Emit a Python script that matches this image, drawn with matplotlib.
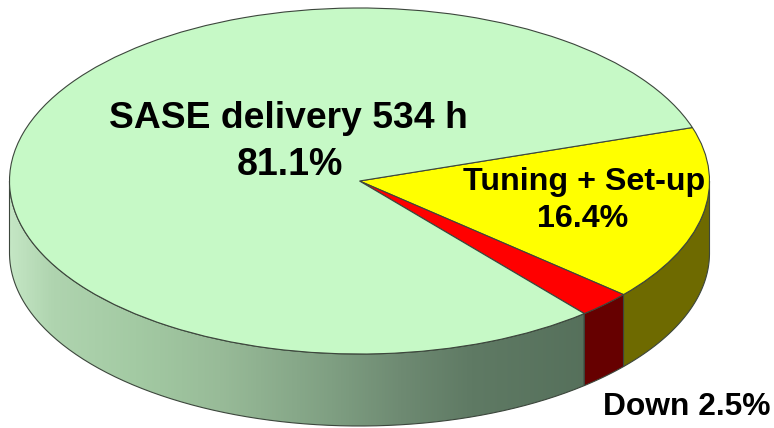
import numpy as np
import matplotlib
matplotlib.use("Agg")
import matplotlib.pyplot as plt
from matplotlib.colors import LinearSegmentedColormap
from matplotlib.patches import PathPatch
from matplotlib.path import Path

# Beam time shares, percent
categories = ["Tuning + Set-up", "Down", "SASE delivery"]
shares = [16.4, 2.5, 81.1]
delivery_hours = 534
top_colors = ["#FFFF00", "#FF0000", "#C6F9C6"]
side_colors = ["#6E6A00", "#660000", None]

# Shading along the green side wall: horizontal position (0..1) and colour
wall_stops = [(0.00, "#C4E6C4"), (0.06, "#AFD4AF"), (0.18, "#A3CAA3"), (0.30, "#98BB98"),
              (0.46, "#7F9F82"), (0.56, "#6E8A72"), (0.66, "#5F7A64"), (1.00, "#4C6652")]

W, H = 774, 428
CX, CY, RX, RY, DEPTH = 359.5, 181.0, 350.0, 173.0, 72.0
EDGE = "#3C463C"

plt.rcParams["font.family"] = ["Liberation Sans", "DejaVu Sans"]
fig = plt.figure(figsize=(W / 100, H / 100), dpi=100)
ax = fig.add_axes([0, 0, 1, 1])

wedges, _ = ax.pie(shares, colors=top_colors, startangle=18, counterclock=False, radius=1,
                   wedgeprops=dict(edgecolor=EDGE, linewidth=0.8, zorder=3))
ax.set_aspect("auto")
ax.axis("off")

depth = DEPTH / RY


def wall_path(a0, a1):
    t = np.radians(np.linspace(a0, a1, 200))
    x, y = np.cos(t), np.sin(t)
    xs = np.r_[x, x[::-1], x[0]]
    ys = np.r_[y, y[::-1] - depth, y[0]]
    return Path(np.column_stack([xs, ys]))


cmap = LinearSegmentedColormap.from_list("wall", wall_stops)
for w, side in zip(wedges, side_colors):
    # Only the front half of the rim (angles -180..0) is visible
    path = wall_path(max(w.theta1, -180.0), min(w.theta2, 0.0))
    if side is None:
        patch = PathPatch(path, facecolor="none", edgecolor="none")
        ax.add_patch(patch)
        img = ax.imshow(np.linspace(0, 1, 512)[None, :], cmap=cmap, vmin=0, vmax=1, aspect="auto",
                        extent=(-1, 1, -1.5, 0.2), zorder=1, interpolation="bilinear")
        img.set_clip_path(patch)
    ax.add_patch(PathPatch(path, facecolor=side if side else "none", edgecolor=EDGE,
                           linewidth=0.8, zorder=2))

ax.set_xlim(-CX / RX, (W - CX) / RX)
ax.set_ylim((CY - H) / RY, CY / RY)


def label(x, y, s, size):
    fig.text(x / W, 1 - y / H, s, ha="center", va="center", fontsize=size, fontweight="bold",
             color="black", zorder=10)


label(288.5, 119, f"{categories[2]} {delivery_hours} h", 26.8)
label(290, 165, f"{shares[2]}%", 27)
label(584, 182, categories[0], 23.2)
label(583, 219, f"{shares[0]}%", 23.2)
label(686.5, 407, f"{categories[1]} {shares[1]}%", 22.9)

fig.savefig("out.png", dpi=100)
